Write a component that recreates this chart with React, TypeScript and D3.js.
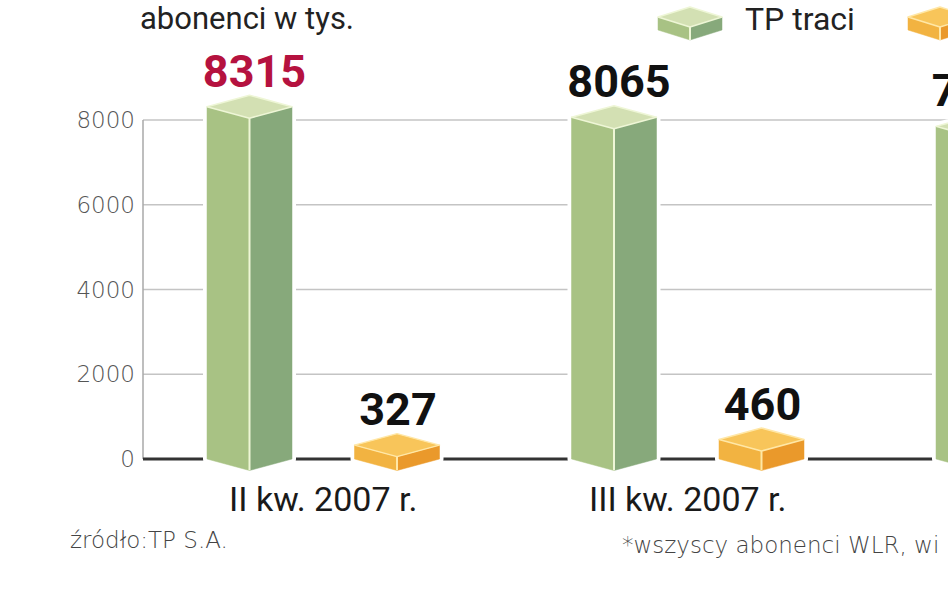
import React from "react";
import * as d3 from "d3";

const categories = ["II kw. 2007 r.", "III kw. 2007 r.", "IV kw. 2007 r."];
const tpValues: (number | null)[] = [8315, 8065, 7850];
const altValues: (number | null)[] = [327, 460, null];
const valueColors = ["#b5123f", "#111111", "#111111"];
const yTicks = [0, 2000, 4000, 6000, 8000];
const series = ["tp", "alt"];
const legendLabels = ["TP traci"];
const titleText = "abonenci w tys.";
const sourceText = "źródło:TP S.A.";
const noteText = "*wszyscy abonenci WLR, wi";

const W = 948;
const H = 593;

const palette: Record<string, { top: string; left: string; right: string; edge: string }> = {
  tp: { top: "#d3e0b3", left: "#a8c284", right: "#87a97b", edge: "#eef6d6" },
  alt: { top: "#f8c55a", left: "#f2b341", right: "#ea992b", edge: "#ffe7a6" },
};

function Prism({ cx, yTop, yBase, hw, d, kind, halo }: any) {
  const c = palette[kind];
  const left = [[cx - hw, yTop], [cx, yTop + d], [cx, yBase + d], [cx - hw, yBase]];
  const right = [[cx + hw, yTop], [cx, yTop + d], [cx, yBase + d], [cx + hw, yBase]];
  const top = [[cx - hw, yTop], [cx, yTop - d], [cx + hw, yTop], [cx, yTop + d]];
  const outline = [[cx - hw, yTop], [cx, yTop - d], [cx + hw, yTop], [cx + hw, yBase], [cx, yBase + d], [cx - hw, yBase]];
  const p = (pts: number[][]) => pts.map((q) => q.join(",")).join(" ");
  return (
    <g>
      {halo && <polygon points={p(outline)} fill="#fff" stroke="#fff" strokeWidth={8} strokeLinejoin="round" />}
      <polygon points={p(left)} fill={c.left} stroke={c.left} strokeWidth={0.5} />
      <polygon points={p(right)} fill={c.right} stroke={c.right} strokeWidth={0.5} />
      <polygon points={p(top)} fill={c.top} stroke={c.edge} strokeWidth={1.5} strokeLinejoin="round" />
      <line x1={cx} y1={yTop + d} x2={cx} y2={yBase + d} stroke={c.edge} strokeWidth={2} />
    </g>
  );
}

export default function App() {
  const y = d3.scaleLinear().domain([0, 8000]).range([459, 120]);
  const x = d3.scaleBand<string>().domain(categories).range([175, 175 + 364.5 * categories.length]).padding(0);
  const sx = d3.scalePoint<string>().domain(series).range([74.5, 222]);
  const axisX = 143;
  const hw = 42.5;
  const depth = 11.5;
  const labelFont = "Roboto, 'DejaVu Sans', sans-serif";
  const thinFont = "'DejaVu Sans', sans-serif";

  return (
    <svg width={W} height={H} style={{ position: "absolute", left: 0, top: 0, background: "#fff" }}>
      {/* title */}
      <text x={140} y={29} fontFamily={labelFont} fontSize={31} fill="#222">{titleText}</text>

      {/* legend */}
      <Prism cx={690} yTop={17} yBase={30} hw={32} d={10} kind="tp" />
      <text x={745} y={30} fontFamily={labelFont} fontSize={32} fill="#222">{legendLabels[0]}</text>
      <Prism cx={940} yTop={17} yBase={30} hw={32} d={10} kind="alt" />

      {/* grid */}
      {yTicks.filter((t) => t > 0).map((t) => (
        <line key={t} x1={axisX} x2={W} y1={y(t)} y2={y(t)} stroke="#c4c4c4" strokeWidth={1.5} />
      ))}
      <line x1={axisX} x2={axisX} y1={y(8000)} y2={y(0)} stroke="#a8a8a8" strokeWidth={1.5} />
      <line x1={axisX} x2={W} y1={y(0)} y2={y(0)} stroke="#333" strokeWidth={3} />
      {yTicks.map((t) => (
        <text key={t} x={135} y={y(t) + 8} textAnchor="end" fontFamily={thinFont} fontWeight={200}
          fontSize={23} fill="#555">{t}</text>
      ))}

      {/* bars */}
      {categories.map((cat, i) => {
        const x0 = x(cat)!;
        const out: any[] = [];
        const vals = [tpValues[i], altValues[i]];
        series.forEach((s, j) => {
          const v = vals[j];
          if (v == null) return;
          const cx = x0 + sx(s)!;
          out.push(<Prism key={s} cx={cx} yTop={y(v)} yBase={y(0)} hw={hw} d={depth} kind={s} halo />);
          out.push(
            <text key={s + "l"} x={cx + (j === 0 ? 5 : 1)} y={y(v) - 20} textAnchor="middle" fontFamily={labelFont}
              fontWeight={700} fontSize={45} fill={j === 0 ? valueColors[i] : "#111"}>{v}</text>
          );
        });
        return <g key={cat}>{out}</g>;
      })}

      {/* category labels (only those whose group lies inside the picture) */}
      {categories.filter((cat) => x(cat)! + (sx("tp")! + sx("alt")!) / 2 + 100 < W).map((cat) => (
        <text key={cat} x={x(cat)! + (sx("tp")! + sx("alt")!) / 2} y={511} textAnchor="middle"
          fontFamily={labelFont} fontSize={34} fill="#1a1a1a">{cat}</text>
      ))}

      {/* footer */}
      <text x={70} y={548} fontFamily={thinFont} fontWeight={200} fontSize={23} fill="#444">{sourceText}</text>
      <text x={622} y={553} fontFamily={thinFont} fontWeight={200} fontSize={23} fill="#444">{noteText}</text>
    </svg>
  );
}
